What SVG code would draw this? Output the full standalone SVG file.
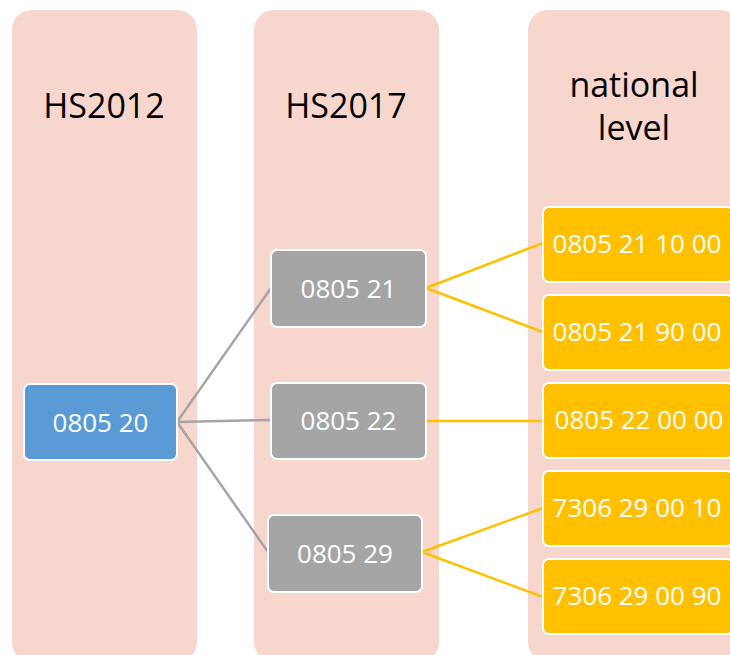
<svg xmlns="http://www.w3.org/2000/svg" width="730" height="655" viewBox="0 0 730 655">
<style>
.col{fill:#F7D7CD}
.hdr{font-family:"Open Sans","Liberation Sans",sans-serif;font-size:34px;fill:#000;text-anchor:middle}
.box{stroke:#FFFFFF;stroke-width:2}
.blue{fill:#5B9BD5}
.gray{fill:#A5A5A5}
.yel{fill:#FFC000}
.lbl{font-family:"Open Sans","Liberation Sans",sans-serif;font-size:26px;fill:#FFFFFF;text-anchor:middle}
.cg{stroke:#A5A5A5;stroke-width:2.5;fill:none}
.cy{stroke:#FFC000;stroke-width:2.5;fill:none}
</style>
<rect width="730" height="655" fill="#FFFFFF"/>
<g id="columns">
<g id="col-hs2012"><rect class="col" x="12" y="10" width="185" height="652" rx="20"/><text class="hdr" x="104" y="118">HS2012</text></g>
<g id="col-hs2017"><rect class="col" x="254" y="10" width="185" height="652" rx="20"/><text class="hdr" x="346" y="118">HS2017</text></g>
<g id="col-national"><rect class="col" x="528" y="10" width="212" height="652" rx="20"/><text class="hdr" x="634" y="97">national</text><text class="hdr" x="634" y="140">level</text></g>
</g>
<g id="connectors">
<line class="cg" x1="177" y1="422" x2="271" y2="288"/>
<line class="cg" x1="177" y1="422" x2="271" y2="420"/>
<line class="cg" x1="177" y1="422" x2="268" y2="552"/>
<line class="cy" x1="426" y1="288" x2="543" y2="243"/>
<line class="cy" x1="426" y1="288" x2="543" y2="332"/>
<line class="cy" x1="426" y1="421" x2="543" y2="421"/>
<line class="cy" x1="422" y1="552" x2="543" y2="508"/>
<line class="cy" x1="422" y1="552" x2="543" y2="597"/>
</g>
<g id="n080520"><rect class="box blue" x="24" y="384" width="153" height="76" rx="6"/><text class="lbl" x="100.5" y="431.5">0805 20</text></g>
<g id="n080521"><rect class="box gray" x="271" y="250" width="155" height="77" rx="6"/><text class="lbl" x="348.5" y="297.5">0805 21</text></g>
<g id="n080522"><rect class="box gray" x="271" y="383" width="155" height="76" rx="6"/><text class="lbl" x="348.5" y="430">0805 22</text></g>
<g id="n080529"><rect class="box gray" x="268" y="515" width="154" height="77" rx="6"/><text class="lbl" x="345" y="562.5">0805 29</text></g>
<g id="n0805211000"><rect class="box yel" x="543" y="207" width="190" height="75" rx="6"/><text class="lbl" x="637" y="253">0805 21 10 00</text></g>
<g id="n0805219000"><rect class="box yel" x="543" y="295" width="190" height="75" rx="6"/><text class="lbl" x="637" y="341">0805 21 90 00</text></g>
<g id="n0805220000"><rect class="box yel" x="543" y="383" width="190" height="75" rx="6"/><text class="lbl" x="639" y="429">0805 22 00 00</text></g>
<g id="n7306290010"><rect class="box yel" x="543" y="471" width="190" height="75" rx="6"/><text class="lbl" x="637" y="517">7306 29 00 10</text></g>
<g id="n7306290090"><rect class="box yel" x="543" y="559" width="190" height="75" rx="6"/><text class="lbl" x="637" y="605">7306 29 00 90</text></g>
</svg>
